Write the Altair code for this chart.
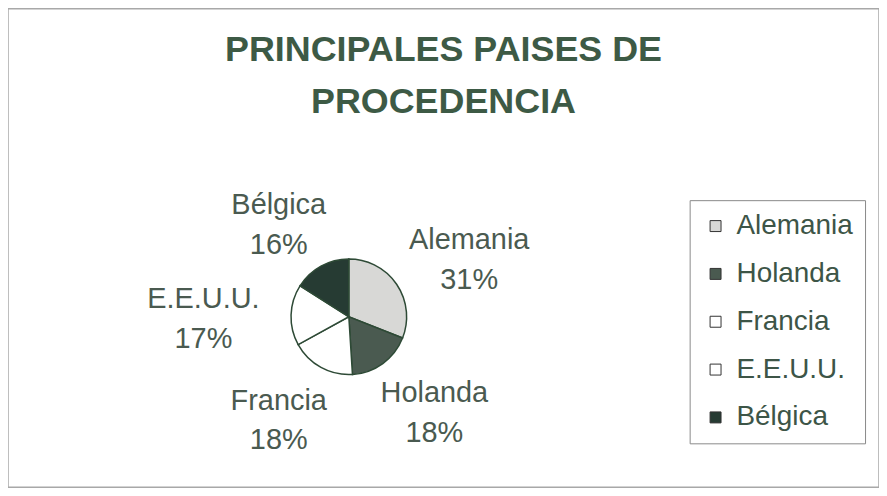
import altair as alt
import pandas as pd

paises = ["Alemania", "Holanda", "Francia", "E.E.U.U.", "Bélgica"]
porcentajes = [31, 18, 18, 17, 16]
colores = ["#d8d8d6", "#4a5a50", "#ffffff", "#ffffff", "#263b33"]

df = pd.DataFrame({
    "pais": paises,
    "valor": porcentajes,
    "orden": list(range(len(paises))),
})
df["etiqueta"] = [f"{p}\n{v}%" for p, v in zip(paises, porcentajes)]

font = "Liberation Sans"
cx, cy = 342, 309
rx, ry = 146, 112

base = alt.Chart(df).encode(
    theta=alt.Theta("valor:Q", stack=True),
    order=alt.Order("orden:Q"),
)

pie = base.mark_arc(outerRadius=58, stroke="#2e4a36", strokeWidth=1.5).encode(
    x=alt.value(cx),
    y=alt.value(cy),
    color=alt.Color(
        "pais:N",
        scale=alt.Scale(domain=paises, range=colores),
        sort=paises,
        legend=alt.Legend(
            title=None,
            orient="none",
            legendX=684,
            legendY=192,
            padding=12,
            strokeColor="#8a8a8a",
            symbolType="square",
            symbolSize=121,
            symbolStrokeColor="#333333",
            symbolStrokeWidth=1,
            labelFont=font,
            labelFontSize=28,
            labelColor="#3d5547",
            rowPadding=20,
            labelOffset=7,
            labelLimit=250,
        ),
    ),
)

labels = alt.Chart(df).transform_joinaggregate(
    total="sum(valor)"
).transform_window(
    acum="sum(valor)", sort=[alt.SortField("orden")], frame=[None, 0]
).transform_calculate(
    medio=f"(datum.acum - datum.valor / 2) / datum.total * 2 * PI"
).transform_calculate(
    lx=f"{cx} + {rx} * sin(datum.medio)",
    ly=f"{cy} - {ry} * cos(datum.medio)",
).mark_text(
    font=font, fontSize=29, lineBreak="\n", color="#4a5a50",
    lineHeight=40, dy=-14,
).encode(
    x=alt.X("lx:Q", scale=None, axis=None),
    y=alt.Y("ly:Q", scale=None, axis=None),
    text="etiqueta:N",
)

chart = alt.layer(pie, labels).properties(
    width=874,
    height=480,
    padding=0,
    autosize=alt.AutoSizeParams(type="fit", contains="padding"),
    title=alt.Title(
        text=["PRINCIPALES PAISES DE", "PROCEDENCIA"],
        font=font,
        fontSize=36,
        fontWeight="bold",
        color="#3d5a45",
        lineHeight=53,
        anchor="middle",
        offset=-113,
    ),
).configure_view(stroke="#a8a8a8", strokeWidth=1.5)

chart.save("out.html", embed_options={"renderer": "svg", "actions": False})
